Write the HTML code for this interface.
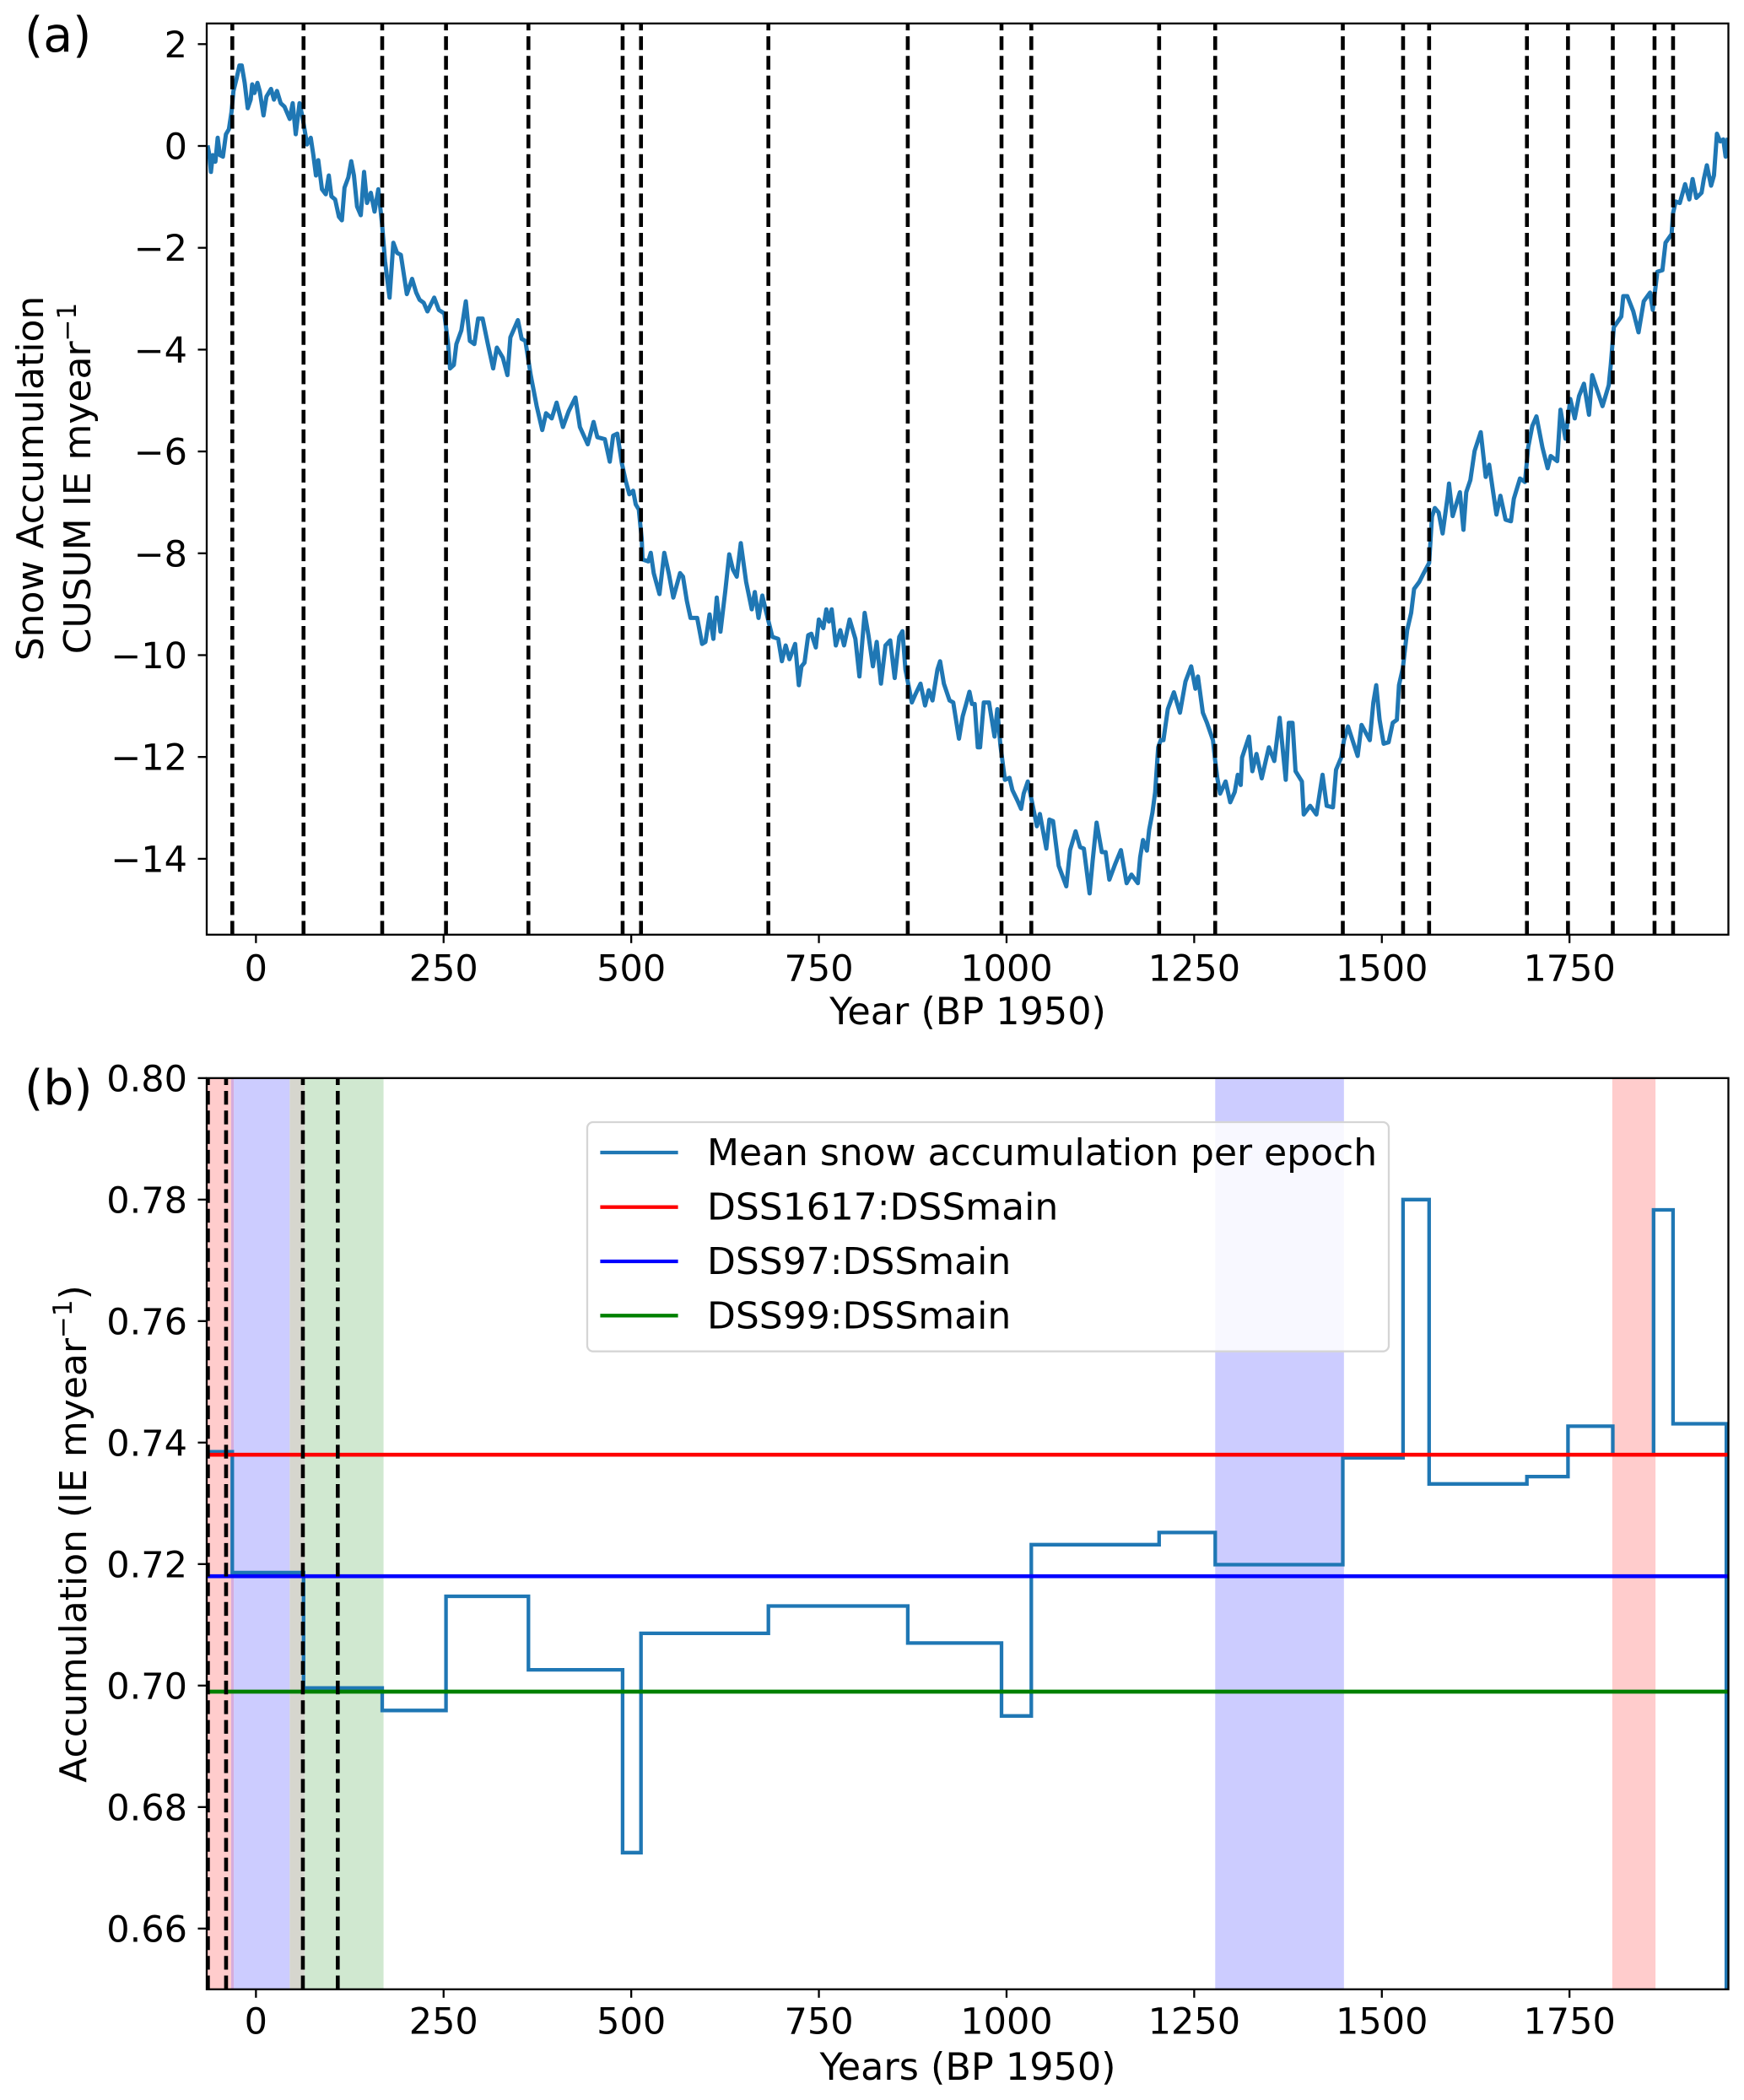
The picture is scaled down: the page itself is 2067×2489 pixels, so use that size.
<!DOCTYPE html>
<html lang="en">
<head>
<meta charset="utf-8">
<title>Snow accumulation CUSUM and epoch means</title>
<style>
html,body{margin:0;padding:0;background:#fff;}
svg{display:block;}
text{font-family:"DejaVu Sans","Liberation Sans",sans-serif;fill:#000;}
</style>
</head>
<body>
<svg id="fig" xmlns="http://www.w3.org/2000/svg" width="2067" height="2489" viewBox="0 0 2067 2489">
  <defs>
    <clipPath id="clipA"><rect x="245" y="27.8" width="1803.5" height="1080"/></clipPath>
    <clipPath id="clipB"><rect x="245" y="1277.8" width="1803.5" height="1080"/></clipPath>
  </defs>
  <rect x="0" y="0" width="2067" height="2489" fill="#fff"/>

  <g id="panelA">
    <path id="cusumLine" clip-path="url(#clipA)" fill="none" stroke="#1f77b4" stroke-width="5" stroke-linejoin="round"/>
    <g id="cpA" clip-path="url(#clipA)"></g>
    <rect x="245" y="27.8" width="1803.5" height="1080" fill="none" stroke="#000" stroke-width="2.3"/>
    <g id="ticksA"></g>
    <text x="29" y="61" font-size="57">(a)</text>
    <text transform="translate(51,567) rotate(-90)" text-anchor="middle" font-size="44">Snow Accumulation</text>
    <text transform="translate(107,567) rotate(-90)" text-anchor="middle" font-size="44">CUSUM IE myear<tspan dy="-17" font-size="31">−1</tspan></text>
    <text x="1147" y="1214" text-anchor="middle" font-size="44.5">Year (BP 1950)</text>
  </g>

  <g id="panelB">
    <g id="spans" clip-path="url(#clipB)"></g>
    <path id="epochLine" clip-path="url(#clipB)" fill="none" stroke="#1f77b4" stroke-width="4.3" stroke-linejoin="miter"/>
    <g id="refLines" clip-path="url(#clipB)"></g>
    <g id="cpB" clip-path="url(#clipB)"></g>
    <rect x="245" y="1277.8" width="1803.5" height="1080" fill="none" stroke="#000" stroke-width="2.3"/>
    <g id="ticksB"></g>
    <text x="29" y="1309" font-size="57">(b)</text>
    <text transform="translate(102,1818) rotate(-90)" text-anchor="middle" font-size="44">Accumulation (IE myear<tspan dy="-17" font-size="31">−1</tspan><tspan dy="17">)</tspan></text>
    <text x="1147" y="2465" text-anchor="middle" font-size="44.5">Years (BP 1950)</text>

    <g>
      <rect x="696" y="1330" width="950" height="271.7" rx="7" ry="7" fill="#fff" fill-opacity="0.85" stroke="#d5d5d5" stroke-width="2.3"/>
      <line x1="711.4" x2="803.6" y1="1366" y2="1366" stroke="#1f77b4" stroke-width="4.3"/>
      <text x="838" y="1381" font-size="44">Mean snow accumulation per epoch</text>
      <line x1="711.4" x2="803.6" y1="1430.7" y2="1430.7" stroke="#ff0000" stroke-width="4.3"/>
      <text x="838" y="1445.7" font-size="44">DSS1617:DSSmain</text>
      <line x1="711.4" x2="803.6" y1="1495" y2="1495" stroke="#0000ff" stroke-width="4.3"/>
      <text x="838" y="1510" font-size="44">DSS97:DSSmain</text>
      <line x1="711.4" x2="803.6" y1="1559.3" y2="1559.3" stroke="#008000" stroke-width="4.3"/>
      <text x="838" y="1574.3" font-size="44">DSS99:DSSmain</text>
    </g>
  </g>
</svg>

<script>
// ---------- Panel (a) data ----------
const years = [-64.5,-62,-60,-57.5,-54,-51,-48,-44,-40,-36,-32.5,-30,-26,-22,-19,-15,-11,-7,-5,-2,2,5,10,14,20,24,28,33,38,45,49,53,58,62,68,73,76.5,80,83,88,93,97,100.5,105.5,110.5,114.5,118,123,127,130.5,134.7,139.7,144,148,153,158,163,168,172,178,183,188,193,201,208,213.5,218,223.5,228.5,237.5,243.6,251,256,258.6,263.6,267,273.7,279.6,285,291,296,302,309,316,321,329,335,339,349,354,359,366,374,381.5,386.5,394,400.6,409,416.6,425.6,431.6,442,449.8,454.8,464.9,471.4,475.9,481.4,487.5,492.5,497.5,502.5,506,510,514,515,522.6,526,530,537.6,544,550,556,565,569,574,579,587.8,594.3,598.9,604.4,609.4,613.9,618.9,625.4,630.5,635.5,640.5,646,653,660.6,664.6,669.6,674.6,679.6,688,695.7,700.7,705.7,710.8,718.3,723.3,726.8,730.8,735.8,739.9,745.9,749.9,755.9,759.9,763.4,767,772.5,778.5,783.5,791,798.6,804,811,816,822,827,832.7,838.7,845,851,857,861.3,865.3,873.8,878.9,885.4,891.4,896.4,901.4,908,911.5,916.5,924,929,936.6,941.6,945.6,950.6,954,957.6,961.7,964.7,969.7,976.7,984,987.7,991.8,997.8,1004,1007.8,1014.3,1019.4,1022.9,1028.4,1034.4,1040.4,1044.4,1053,1057,1062,1069.5,1079.6,1084.6,1092,1098,1103,1110.7,1114.7,1120,1127,1132,1137,1144.8,1152.3,1160,1166.4,1175,1178,1181.8,1187,1190,1194.4,1198,1202,1205.4,1209,1214.8,1223,1231,1238.4,1246,1251.6,1255,1261.5,1267,1275,1278,1280.8,1284.6,1291.8,1298,1304,1308,1312,1313.8,1323,1327.5,1333,1340,1349.5,1356.7,1363.8,1372,1376,1381,1385,1393.5,1396,1404.5,1412.8,1421,1426.5,1434.8,1439,1445.8,1449.6,1455,1467.8,1473,1484,1488.7,1492.5,1497,1502.4,1509,1514.5,1520,1522.8,1528,1533.8,1539,1543,1550,1555.8,1563,1566.8,1570.6,1575.7,1581,1587.8,1589.5,1594.4,1604,1608.7,1612.5,1618,1623.6,1631.8,1638.4,1643,1648.3,1652.7,1658,1664.8,1672,1675.8,1684,1690.7,1695,1700.5,1706,1714,1720.9,1725,1733.6,1738,1744.6,1751,1757,1762.7,1769.3,1776,1780.3,1787,1794,1802.3,1805,1809,1819,1821.6,1827,1835,1842,1849,1857.3,1861,1867,1873.8,1878,1886,1888,1891.4,1897,1904,1909.6,1914,1919,1926,1929,1933,1938.7,1942.5,1946.4,1950.8,1955,1958,1961];
const cusum = [0.01,-0.18,-0.51,-0.18,-0.31,0.16,-0.18,-0.21,0.23,0.33,0.67,1.08,1.31,1.58,1.58,1.24,0.74,0.91,1.21,1.04,1.24,1.08,0.6,0.97,1.12,0.91,1.08,0.84,0.77,0.53,0.84,0.23,0.84,0.57,0.03,0.16,-0.18,-0.58,-0.28,-0.85,-0.95,-0.58,-0.99,-1.05,-1.39,-1.46,-0.82,-0.62,-0.3,-0.58,-1.19,-1.36,-0.51,-1.12,-0.92,-1.29,-0.85,-1.53,-2.27,-2.98,-1.9,-2.1,-2.14,-2.91,-2.61,-2.88,-3.02,-3.08,-3.25,-2.98,-3.22,-3.29,-3.89,-4.37,-4.3,-3.89,-3.62,-3.05,-3.83,-3.89,-3.39,-3.39,-3.89,-4.37,-3.96,-4.16,-4.5,-3.76,-3.42,-3.79,-3.83,-4.5,-5.11,-5.58,-5.25,-5.35,-5.04,-5.52,-5.21,-4.94,-5.52,-5.86,-5.42,-5.72,-5.76,-6.2,-5.69,-5.65,-6.23,-6.57,-6.84,-6.77,-7.04,-7.14,-7.72,-8.12,-8.16,-7.99,-8.39,-8.8,-7.99,-8.39,-8.87,-8.39,-8.46,-8.93,-9.27,-9.27,-9.78,-9.74,-9.2,-9.68,-8.87,-9.54,-8.73,-8.02,-8.32,-8.46,-7.8,-8.56,-9.1,-8.76,-9.27,-8.83,-9.14,-9.64,-9.68,-10.12,-9.81,-10.08,-9.78,-10.59,-10.22,-10.15,-9.61,-9.58,-9.85,-9.3,-9.47,-9.1,-9.34,-9.1,-9.81,-9.51,-9.81,-9.3,-9.68,-10.42,-9.17,-9.61,-10.22,-9.74,-10.56,-9.81,-9.71,-10.45,-9.64,-9.53,-10.28,-10.93,-10.76,-10.56,-10.99,-10.69,-10.89,-10.28,-10.12,-10.56,-10.89,-10.93,-11.64,-11.2,-10.99,-10.72,-10.96,-10.96,-11.81,-11.81,-10.93,-10.93,-11.6,-11.06,-11.77,-12.45,-12.41,-12.65,-12.85,-13.02,-12.72,-12.48,-12.92,-13.36,-13.12,-13.8,-13.23,-13.26,-14.14,-14.54,-13.83,-13.46,-13.77,-13.8,-14.68,-14.04,-13.29,-13.87,-13.87,-14.41,-14.1,-13.83,-14.48,-14.31,-14.48,-13.97,-13.63,-13.84,-13.43,-13.09,-12.69,-11.81,-11.67,-11.67,-11.06,-10.73,-11.13,-10.52,-10.22,-10.66,-10.42,-11.13,-11.33,-11.67,-12.08,-12.42,-12.72,-12.48,-12.89,-12.69,-12.35,-12.55,-12.01,-11.6,-12.28,-11.94,-12.42,-11.81,-12.08,-11.23,-12.45,-11.33,-11.33,-12.28,-12.48,-13.13,-12.96,-13.13,-12.35,-12.96,-12.99,-12.25,-12.01,-11.67,-11.4,-11.98,-11.37,-11.67,-10.93,-10.59,-11.27,-11.74,-11.71,-11.33,-11.27,-10.59,-10.25,-9.51,-9.17,-8.7,-8.56,-8.39,-8.19,-7.28,-7.11,-7.2,-7.61,-6.87,-6.63,-7.27,-6.8,-7.54,-6.8,-6.56,-5.99,-5.62,-6.5,-6.26,-6.8,-7.24,-6.87,-7.34,-7.37,-6.93,-6.53,-6.6,-5.92,-5.5,-5.31,-5.92,-6.33,-6.09,-6.19,-5.18,-5.75,-4.97,-5.35,-4.91,-4.67,-5.28,-4.5,-4.8,-5.11,-4.7,-4.3,-3.56,-3.35,-2.95,-2.95,-3.25,-3.66,-3.05,-2.88,-3.22,-2.47,-2.44,-1.9,-1.73,-1.32,-1.09,-1.12,-0.75,-1.05,-0.65,-1.02,-0.92,-0.65,-0.38,-0.78,-0.58,0.24,0.09,0.13,-0.21,0.16];
const changePointsA = [-31.5,63.4,168.2,253.2,363,488.5,513,682.7,868.4,993.3,1033,1203.3,1278,1448,1528.3,1563,1693.3,1748,1807.7,1863.3,1888];
const yTicksA = [2,0,-2,-4,-6,-8,-10,-12,-14];
const xTickValues = [0,250,500,750,1000,1250,1500,1750];

// ---------- Panel (b) data ----------
const epochEdges = [-65.6,-31.5,63.4,168.2,253.2,363,488.5,513,682.7,868.4,993.3,1033,1203.3,1278,1448,1528.3,1563,1693.3,1748,1807.7,1862,1888,1959];
const epochMeans = [0.7385,0.7186,0.6996,0.6959,0.7147,0.7026,0.6725,0.7086,0.7131,0.707,0.695,0.7232,0.7252,0.7199,0.7375,0.78,0.7332,0.7344,0.7427,0.738,0.7783,0.7431];
const ratioDSS1617 = 0.738;
const ratioDSS97 = 0.718;
const ratioDSS99 = 0.699;
const changePointsB = [-64,-39.8,62.5,109];
const redSpans = [[-66,-33],[1807,1864.6]];
const blueSpans = [[-29.5,45],[1278,1449.5]];
const greenSpans = [[65,170]];
const purpleOverlapSpans = [[-33,-29.5]];
const greyOverlapSpans = [[45,65]];
const yTicksB = [0.80,0.78,0.76,0.74,0.72,0.70,0.68,0.66];

// ---------- Axis functions ----------
const NS = 'http://www.w3.org/2000/svg';
const xDomain = [-65.6,1961.7];
const xRange = [245,2048.5];
const X = v => xRange[0] + (v-xDomain[0])*(xRange[1]-xRange[0])/(xDomain[1]-xDomain[0]);
const YA = v => 27.8 + (2.406-v)*(1080/(2.406+15.49));
const YB = v => 1277.8 + (0.80-v)*(1080/0.15);
const make = (tag, parent) => { const el = document.createElementNS(NS, tag); parent.appendChild(el); return el; };

// ---------- Panel (a) marks ----------
let dA = '';
for (let i = 0; i < years.length; i++) {
  dA += (i ? 'L' : 'M') + X(years[i]).toFixed(1) + ' ' + YA(cusum[i]).toFixed(1);
}
document.getElementById('cusumLine').setAttribute('d', dA);

function drawDashes(parent, values, yTop, yBottom, name) {
  values.forEach(v => {
    const l = make('line', parent);
    
    
    l.setAttribute('x1', X(v)); l.setAttribute('x2', X(v));
    l.setAttribute('y1', yBottom); l.setAttribute('y2', yTop);
    l.setAttribute('stroke', '#000');
    l.setAttribute('stroke-width', '4.6');
    l.setAttribute('stroke-dasharray', '16.3 7');
  });
}
drawDashes(document.getElementById('cpA'), changePointsA, 27.8, 1107.8, 'change-point-line-a');

function drawXTicks(parent, yBottom, baseline) {
  xTickValues.forEach(v => {
    const t = make('line', parent);
    
    
    t.setAttribute('x1', X(v)); t.setAttribute('x2', X(v));
    t.setAttribute('y1', yBottom); t.setAttribute('y2', yBottom + 10);
    t.setAttribute('stroke', '#000');
    t.setAttribute('stroke-width', '2.3');
    const s = make('text', parent);
    
    
    s.setAttribute('x', X(v)); s.setAttribute('y', baseline);
    s.setAttribute('text-anchor', 'middle');
    s.setAttribute('font-size', '43');
    s.textContent = String(v);
  });
}
function drawYTicks(parent, values, scale, format) {
  values.forEach(v => {
    const t = make('line', parent);
    
    
    t.setAttribute('x1', 234.5); t.setAttribute('x2', 245);
    t.setAttribute('y1', scale(v)); t.setAttribute('y2', scale(v));
    t.setAttribute('stroke', '#000');
    t.setAttribute('stroke-width', '2.3');
    const s = make('text', parent);
    
    
    s.setAttribute('x', 222); s.setAttribute('y', scale(v) + 15.5);
    s.setAttribute('text-anchor', 'end');
    s.setAttribute('font-size', '43');
    s.textContent = format(v);
  });
}
const ticksA = document.getElementById('ticksA');
drawXTicks(ticksA, 1107.8, 1162.5);
drawYTicks(ticksA, yTicksA, YA, v => String(v).replace('-', '\u2212'));

// ---------- Panel (b) marks ----------
const spansG = document.getElementById('spans');
function drawSpans(list, color, name) {
  list.forEach(s => {
    const r = make('rect', spansG);
    
    
    r.setAttribute('x', X(s[0]));
    r.setAttribute('y', 1277.8);
    r.setAttribute('width', X(s[1]) - X(s[0]));
    r.setAttribute('height', 1080);
    r.setAttribute('fill', color);
  });
}
drawSpans(redSpans, '#ffcccc', 'dss1617-span');
drawSpans(blueSpans, '#ccccff', 'dss97-span');
drawSpans(greenSpans, '#d0e8d0', 'dss99-span');
drawSpans(purpleOverlapSpans, '#d5acdd', 'red-blue-overlap-span');
drawSpans(greyOverlapSpans, '#d6d6ce', 'blue-green-overlap-span');

let dB = '';
for (let i = 0; i < epochMeans.length; i++) {
  dB += (i ? 'L' : 'M') + X(epochEdges[i]).toFixed(1) + ' ' + YB(epochMeans[i]).toFixed(1);
  dB += 'L' + X(epochEdges[i+1]).toFixed(1) + ' ' + YB(epochMeans[i]).toFixed(1);
}
dB += 'L' + X(epochEdges[epochEdges.length-1]).toFixed(1) + ' ' + YB(0.65).toFixed(1);
document.getElementById('epochLine').setAttribute('d', dB);

const refG = document.getElementById('refLines');
function drawRef(value, color, name) {
  const l = make('line', refG);
  
  
  l.setAttribute('x1', 245); l.setAttribute('x2', 2048.5);
  l.setAttribute('y1', YB(value)); l.setAttribute('y2', YB(value));
  l.setAttribute('stroke', color);
  l.setAttribute('stroke-width', '4.7');
}
drawRef(ratioDSS1617, '#ff0000', 'dss1617-line');
drawRef(ratioDSS97, '#0000ff', 'dss97-line');
drawRef(ratioDSS99, '#008000', 'dss99-line');

drawDashes(document.getElementById('cpB'), changePointsB, 1277.8, 2357.8, 'change-point-line-b');

const ticksB = document.getElementById('ticksB');
drawXTicks(ticksB, 2357.8, 2410.7);
drawYTicks(ticksB, yTicksB, YB, v => v.toFixed(2));
</script>
</body>
</html>
